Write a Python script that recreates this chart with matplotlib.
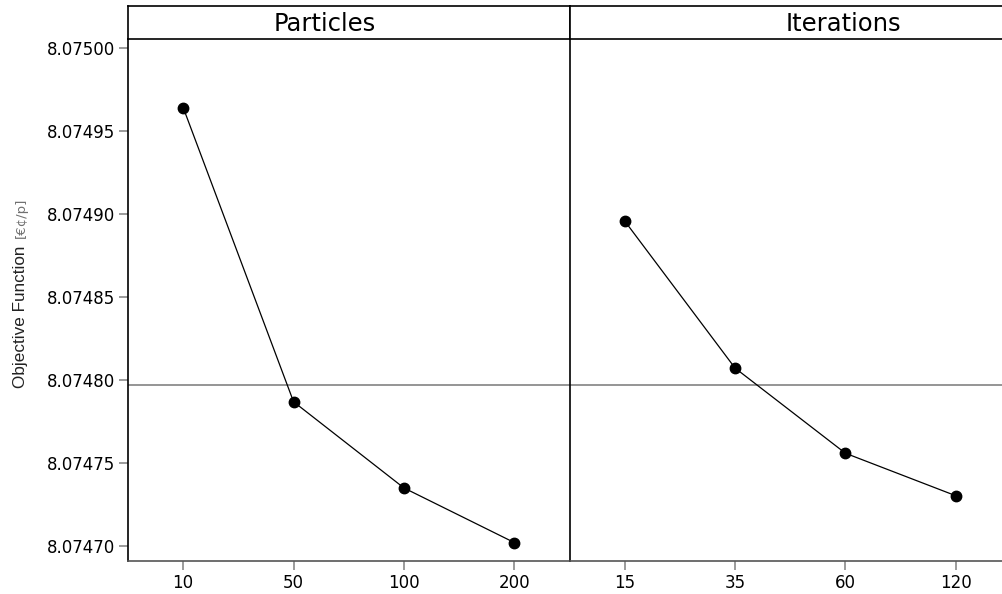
import matplotlib
matplotlib.use("Agg")
from matplotlib import pyplot as plt
from matplotlib.ticker import FormatStrFormatter
import numpy as np

# main effects for the two PSO settings
particles = ["10", "50", "100", "200"]
particles_mean = [8.0749639, 8.0747867, 8.0747348, 8.0747019]
iterations = ["15", "35", "60", "120"]
iterations_mean = [8.0748956, 8.0748070, 8.0747557, 8.0747301]
grand_mean = 8.0747970
y_ticks = [8.07470, 8.07475, 8.07480, 8.07485, 8.07490, 8.07495, 8.07500]

W, H = 1003, 594
fig = plt.figure(figsize=(W / 100, H / 100), dpi=100)

left, top, bottom = 128, 39, 561
panel_w = 441.5
strip_h = 33
title_x = [0.445, 0.62]  # where the strip text sits, fraction of panel

panels = [("Particles", particles, particles_mean),
          ("Iterations", iterations, iterations_mean)]

axes = []
for i, (name, labels, vals) in enumerate(panels):
    x0 = left + i * panel_w
    ax = fig.add_axes([x0 / W, (H - bottom) / H, panel_w / W, (bottom - top) / H],
                      sharey=axes[0] if axes else None)
    axes.append(ax)
    xs = np.arange(1, len(labels) + 1)
    ax.axhline(grand_mean, color="#8c8c8c", lw=1.3, zorder=1)
    ax.plot(xs, vals, color="black", lw=0.9, marker="o", ms=7.5, zorder=3,
            clip_on=False)
    ax.set_xlim(0.5, len(labels) + 0.5)
    ax.set_xticks(xs)
    ax.set_xticklabels(labels)
    for s in ["top", "right"]:
        ax.spines[s].set_visible(False)
    ax.spines["left"].set_color("black")
    ax.spines["left"].set_linewidth(1.2)
    ax.spines["bottom"].set_color("#555555")
    ax.spines["bottom"].set_linewidth(1.2)
    ax.tick_params(axis="both", direction="out", length=6.5, width=1.1,
                   color="#808080", labelsize=12, pad=3)
    if i > 0:
        ax.tick_params(axis="y", left=False, labelleft=False)

    # title strip
    sx = fig.add_axes([x0 / W, (H - top) / H, panel_w / W, strip_h / H])
    sx.set_xticks([])
    sx.set_yticks([])
    for s in sx.spines.values():
        s.set_color("black")
        s.set_linewidth(1.2)
    sx.text(title_x[i], 0.45, name, ha="center", va="center", fontsize=17.5,
            transform=sx.transAxes)

ax0 = axes[0]
ax0.set_ylim(8.0746908, 8.0750052)
ax0.set_yticks(y_ticks)
ax0.yaxis.set_major_formatter(FormatStrFormatter("%.5f"))

fig.text(25 / W, (H - 388) / H, "Objective Function", rotation=90,
         rotation_mode="anchor", ha="left", va="baseline",
         fontsize=12.3, family="Liberation Sans", color="#222222")
fig.text(25 / W, (H - 238) / H, "[€¢/p]", rotation=90,
         rotation_mode="anchor", ha="left", va="baseline",
         fontsize=9.5, family="DejaVu Sans", color="#707070")

fig.savefig("out.png", dpi=100)
